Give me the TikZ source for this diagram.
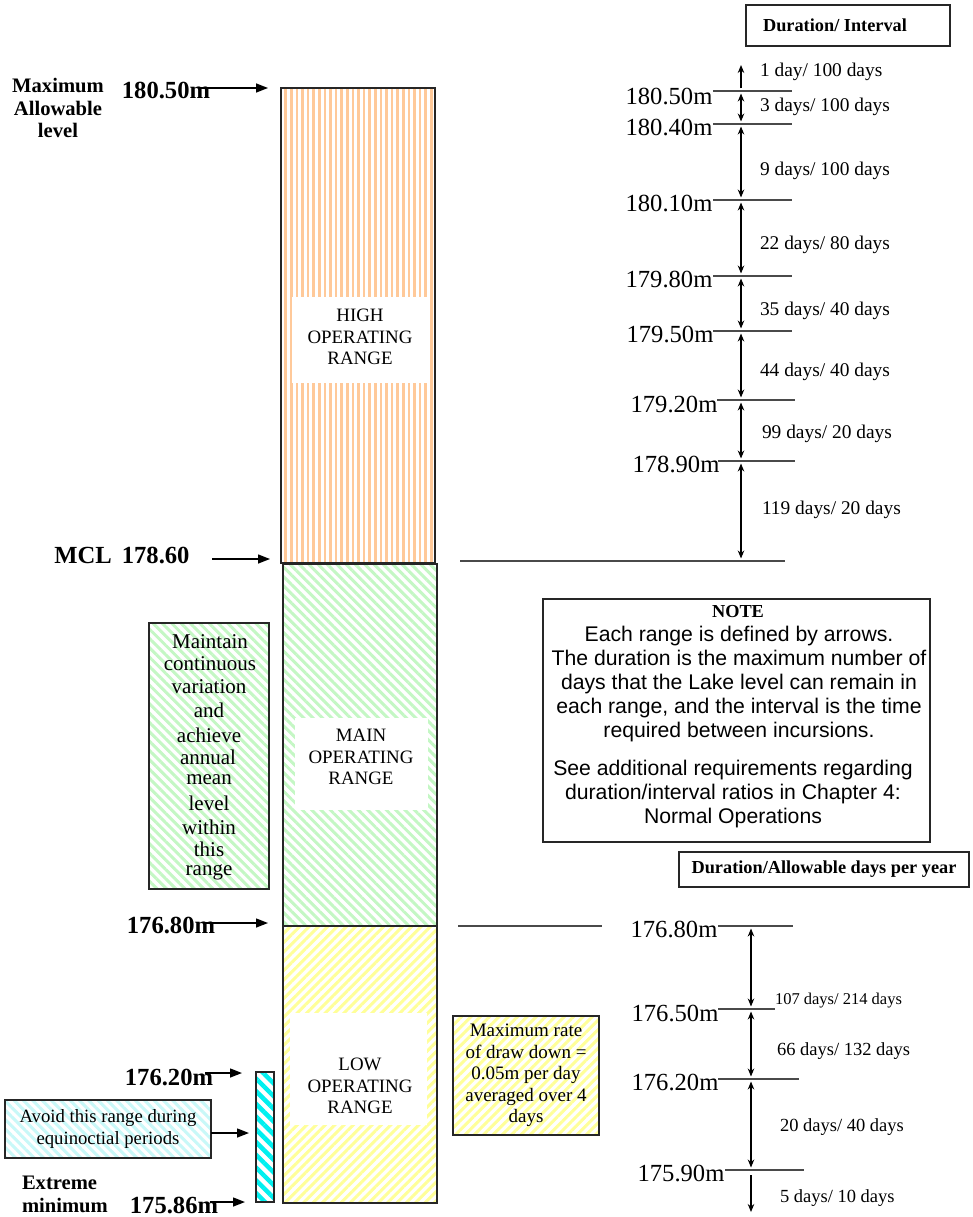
\documentclass[tikz,border=0pt]{standalone}
\usepackage{fontspec}
\setmainfont{Liberation Serif}
\newfontfamily\arialf{Liberation Sans}
\usetikzlibrary{patterns.meta,arrows.meta}
\definecolor{orstripe}{HTML}{FFC999}
\definecolor{grstripe}{HTML}{C4F7C4}
\definecolor{yestripe}{HTML}{FFFF99}
\definecolor{cystripe}{HTML}{00F0F0}
\definecolor{lcystripe}{HTML}{C8F8F8}
\definecolor{lvlgray}{HTML}{4A4A4A}
\newcommand\fsBig{\fontsize{24.6}{28}\selectfont}
\newcommand\fsMed{\fontsize{20.6}{22.5}\selectfont}
\newcommand\fsRange{\fontsize{18.9}{21.5}\selectfont}
\newcommand\fsDays{\fontsize{19.4}{22}\selectfont}
\newcommand\fsDaysB{\fontsize{18.5}{22}\selectfont}
\newcommand\fsDaysC{\fontsize{16.5}{20}\selectfont}
\newcommand\fsHead{\fontsize{18.3}{21}\selectfont}
\newcommand\fsNote{\fontsize{21.2}{24}\selectfont}
\newcommand\fsBox{\fontsize{21}{24}\selectfont}
\newcommand\fsAvoid{\fontsize{18.7}{22}\selectfont}
\newcommand\fsRate{\fontsize{19}{21.5}\selectfont}
\tikzset{
  every node/.style={inner sep=0pt, outer sep=0pt},
  boxed/.style={draw=black!85, line width=1.3pt},
  orangehatch/.style={preaction={fill=white}, preaction={pattern={Lines[angle=90,distance=5.6pt,line width=2.6pt]}, pattern color=orstripe}},
  greenhatch/.style={preaction={fill=white}, preaction={pattern={Lines[angle=-45,distance=6.6pt,line width=3pt]}, pattern color=grstripe}},
  yellowhatch/.style={preaction={fill=white}, preaction={pattern={Lines[angle=45,distance=6.6pt,line width=3pt]}, pattern color=yestripe}},
  cyanhatch/.style={preaction={fill=white}, preaction={pattern={Lines[angle=-45,distance=9pt,line width=4.5pt]}, pattern color=cystripe}},
  lcyanhatch/.style={preaction={fill=white}, preaction={pattern={Lines[angle=-45,distance=6.6pt,line width=3pt]}, pattern color=lcystripe}},
  whitebox/.style={fill=white},
  rangetext/.style={align=center, font=\fsRange},
  gtext/.style={font=\fsBox},
  bl/.style={font=\bfseries\fsBig},
  bl2/.style={font=\bfseries\fsMed},
  rl/.style={font=\fsBig},
  dl/.style={font=\fsDays, anchor=west},
  dlb/.style={font=\fsDaysB, anchor=west},
  bigarr/.style={line width=1.4pt, -{Triangle[length=12pt,width=9pt]}},
  lvl/.style={draw=lvlgray, line width=1.5pt},
  darr/.style={line width=1.2pt, {Stealth[length=8pt,width=6.5pt]}-{Stealth[length=8pt,width=6.5pt]}, shorten <=2.5pt, shorten >=2.5pt},
  sarr/.style={line width=1.2pt, -{Stealth[length=8pt,width=6.5pt]}, shorten <=2.5pt}
}
\begin{document}
\begin{tikzpicture}[x=1pt,y=-1pt]
\useasboundingbox (0,0) rectangle (972,1217);

% ---------- main column ----------
\node[boxed, orangehatch, minimum width=154pt, minimum height=475pt] (high) at (358,325.5) {};
\node[boxed, greenhatch, minimum width=154pt, minimum height=362pt] (main) at (360,745) {};
\node[boxed, yellowhatch, minimum width=154pt, minimum height=277pt] (low) at (360,1064.5) {};

\node[whitebox, minimum width=135pt, minimum height=86pt] (hw) at (359.5,340) {};
\node[rangetext] (hlab) at (360,337) {HIGH\\OPERATING\\RANGE};
\node[whitebox, minimum width=133pt, minimum height=92pt] (mw) at (361.5,764) {};
\node[rangetext] (mlab) at (361,757) {MAIN\\OPERATING\\RANGE};
\node[whitebox, minimum width=137pt, minimum height=112pt] (lw) at (358.5,1069) {};
\node[rangetext] (llab) at (360,1086) {LOW\\OPERATING\\RANGE};

% ---------- left green box ----------
\node[boxed, greenhatch, minimum width=120pt, minimum height=266pt] (gbox) at (209,756) {};
\node[gtext] (g1) at (210,642) {Maintain};
\node[gtext] (g2) at (210,664) {continuous};
\node[gtext] (g3) at (209,687) {variation};
\node[gtext] (g4) at (209,710) {and};
\node[gtext] (g5) at (209,735) {achieve};
\node[gtext] (g6) at (208,757) {annual};
\node[gtext] (g7) at (209,780) {mean};
\node[gtext] (g8) at (209,803) {level};
\node[gtext] (g9) at (209,827) {within};
\node[gtext] (g10) at (209,849) {this};
\node[gtext] (g11) at (209,872) {range};

% ---------- cyan bar & avoid box ----------
\node[boxed, cyanhatch, minimum width=18pt, minimum height=130pt] (cbar) at (265,1137) {};
\node[boxed, lcyanhatch, minimum width=206pt, minimum height=58pt, align=center, font=\fsAvoid] (avoid) at (108,1129) {Avoid this range during\\equinoctial periods};
\coordinate (avs) at (211,1133);
\draw[bigarr] (avs) -- (avs -| cbar.west) [shorten >=7pt];

% ---------- max rate box ----------
\node[boxed, yellowhatch, minimum width=146pt, minimum height=119pt, align=center, font=\fsRate] (rate) at (526,1075.5) {Maximum rate\\of draw down =\\0.05m per day\\averaged over 4\\days};

% ---------- left labels ----------
\node[bl2, align=center] (maxal) at (58,108) {Maximum\\Allowable\\level};
\node[bl] (t1805L) at (166,90) {180.50m};
\coordinate (a1s) at (200,88);
\draw[bigarr, shorten >=13pt] (a1s) -- (a1s -| high.west);

\node[bl] (mcl) at (122,555) {MCL\hspace{10pt}178.60};
\coordinate (a2s) at (212,559);
\draw[bigarr, shorten >=11pt] (a2s) -- (a2s -| high.west);

\node[bl] (t1768L) at (171,925) {176.80m};
\coordinate (a3s) at (205,923);
\draw[bigarr, shorten >=15pt] (a3s) -- (a3s -| main.west);

\node[bl] (t1762L) at (169,1077) {176.20m};
\coordinate (a4s) at (205,1073);
\draw[bigarr, shorten >=14pt] (a4s) -- (a4s -| cbar.west);

\node[bl2, align=left, anchor=north west] (extmin) at (22,1176) {Extreme\\minimum};
\node[bl] (t17586L) at (174,1205) {175.86m};
\coordinate (a5s) at (210,1202);
\draw[bigarr, shorten >=11pt] (a5s) -- (a5s -| cbar.west);

% ---------- separators ----------
\coordinate (sepA1) at (460,561); \coordinate (sepA2) at (785,561);
\draw[lvl] (sepA1) -- (sepA2);
\coordinate (sepB1) at (458,926); \coordinate (sepB2) at (602,926);
\draw[lvl] (sepB1) -- (sepB2);

% ---------- right top ruler ----------
\node[boxed, minimum width=204pt, minimum height=41pt] (durint) at (848,25.5) {};
\node[font=\bfseries\fsHead] (durintt) at (835,25) {Duration/ Interval};

\foreach \n/\lab/\ly/\tx/\ty/\xa/\xb in {
  1805/180.50m/91/669/96/713/792,
  1804/180.40m/124/669/127/713/792,
  1801/180.10m/200/669/203/713/792,
  1798/179.80m/276/669/279/713/792,
  1795/179.50m/331/670/334/713/792,
  1792/179.20m/400/674/404/717/795,
  1789/178.90m/461/676/464/718/795}{
  \node[rl] (t\n) at (\tx,\ty) {\lab};
  \coordinate (la\n) at (\xa,\ly);
  \coordinate (lb\n) at (\xb,\ly);
  \draw[lvl] (la\n) -- (lb\n);
  \coordinate (ar\n) at (741,\ly);
}
\coordinate (artop) at (741,65);
\coordinate (armcl) at (741,561);
\draw[sarr] (ar1805) -- (artop);
\draw[darr] (ar1805) -- (ar1804);
\draw[darr] (ar1804) -- (ar1801);
\draw[darr] (ar1801) -- (ar1798);
\draw[darr] (ar1798) -- (ar1795);
\draw[darr] (ar1795) -- (ar1792);
\draw[darr] (ar1792) -- (ar1789);
\draw[darr] (ar1789) -- (armcl);

\node[dl] (d1) at (760,72) {1 day/ 100 days};
\node[dl] (d2) at (760,107) {3 days/ 100 days};
\node[dl] (d3) at (760,171) {9 days/ 100 days};
\node[dl] (d4) at (760,245) {22 days/ 80 days};
\node[dl] (d5) at (760,311) {35 days/ 40 days};
\node[dl] (d6) at (760,372) {44 days/ 40 days};
\node[dl] (d7) at (762,434) {99 days/ 20 days};
\node[dl] (d8) at (762,510) {119 days/ 20 days};

% ---------- note ----------
\node[boxed, fill=white, minimum width=387pt, minimum height=243pt] (note) at (736.5,720.5) {};
\node[font=\bfseries\fsHead] (notet) at (738,612) {NOTE};
\node[font=\arialf\fsNote, align=center] (note1) at (739,684) {Each range is defined by arrows.\\The duration is the maximum number of\\days that the Lake level can remain in\\each range, and the interval is the time\\required between incursions.};
\node[font=\arialf\fsNote, align=center] (note2) at (733,794) {See additional requirements regarding\\duration/interval ratios in Chapter 4:\\Normal Operations};

% ---------- right bottom ruler ----------
\node[boxed, minimum width=290pt, minimum height=35pt, font=\bfseries\fsHead] (durall) at (824,869.5) {Duration/Allowable days per year};

\foreach \n/\lab/\ly/\tx/\ty/\xa/\xb in {
  1768/176.80m/926/674/929/718/793,
  1765/176.50m/1009/675/1013/718/775,
  1762/176.20m/1079/675/1082/718/799,
  1759/175.90m/1170/681/1173/725/804}{
  \node[rl] (t\n) at (\tx,\ty) {\lab};
  \coordinate (la\n) at (\xa,\ly);
  \coordinate (lb\n) at (\xb,\ly);
  \draw[lvl] (la\n) -- (lb\n);
  \coordinate (ar\n) at (751,\ly);
}
\coordinate (arbot) at (751,1212);
\draw[darr] (ar1768) -- (ar1765);
\draw[darr] (ar1765) -- (ar1762);
\draw[darr] (ar1762) -- (ar1759);
\draw[sarr, shorten <=5pt] (ar1759) -- (arbot);

\node[anchor=west, font=\fsDaysC] (e1) at (775,1001) {107 days/ 214 days};
\node[dlb] (e2) at (777,1051) {66 days/ 132 days};
\node[dlb] (e3) at (780,1127) {20 days/ 40 days};
\node[dlb] (e4) at (780,1198) {5 days/ 10 days};
\end{tikzpicture}
\end{document}
